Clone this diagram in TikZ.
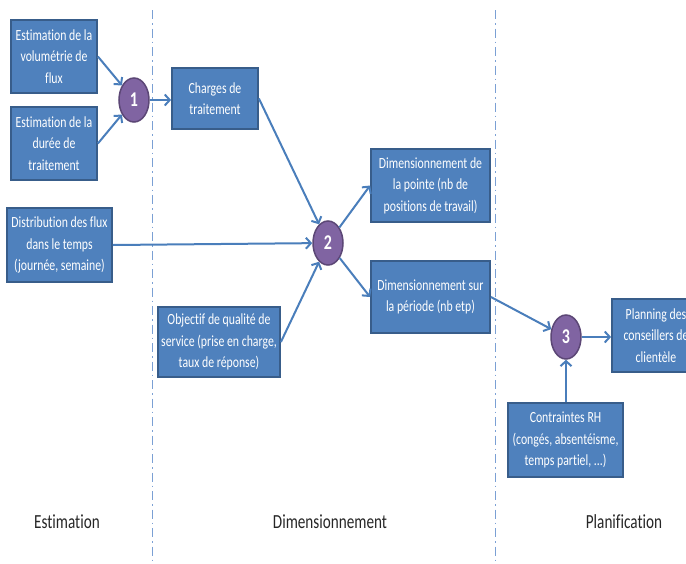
\documentclass[tikz,border=0pt]{standalone}
\usepackage{fontspec}
\setmainfont{Carlito}[FakeStretch=0.76, Ligatures={NoCommon}]
\usetikzlibrary{shapes.geometric,arrows.meta}
\definecolor{boxfill}{HTML}{4F81BD}
\definecolor{boxline}{HTML}{385D8A}
\definecolor{circfill}{HTML}{8064A2}
\definecolor{circline}{HTML}{5C4776}
\definecolor{arrowcol}{HTML}{4A7EBB}
\definecolor{sepcol}{HTML}{7BA0D4}
\begin{document}
\begin{tikzpicture}[x=1pt,y=-1pt,
  box/.style={draw=boxline, line width=1.8pt, fill=boxfill, text=white, align=center, inner sep=0pt, font=\fontsize{15.5}{21.5}\selectfont},
  num/.style={ellipse, draw=circline, line width=1.5pt, fill=circfill, text=white, minimum width=30pt, minimum height=44pt, inner sep=0pt, font=\bfseries\fontsize{21}{21}\selectfont},
  flow/.style={draw=arrowcol, line width=2pt, -{Straight Barb[length=5pt,width=11pt]}},
  sepline/.style={draw=sepcol, line width=1.5pt, dash pattern=on 9pt off 4pt on 1.5pt off 4pt},
  phase/.style={font=\fontsize{20}{24}\selectfont, text=black!85}]
\useasboundingbox (0,0) rectangle (686,563);
\clip (0,0) rectangle (686,563);
\fill[white] (0,0) rectangle (686,563);

% separators
\coordinate (s1t) at (152.5,10);
\coordinate (s1b) at (152.5,563);
\coordinate (s2t) at (495.5,10);
\coordinate (s2b) at (495.5,563);
\draw[sepline] (s1t) -- (s1b);
\draw[sepline] (s2t) -- (s2b);

% boxes
\node[box, minimum width=86pt, minimum height=73pt] (vol) at (54,56.5) {Estimation de la\\volumétrie de\\flux};
\node[box, minimum width=86pt, minimum height=73pt] (duree) at (54,143.5) {Estimation de la\\durée de\\traitement};
\node[box, minimum width=86pt, minimum height=61pt] (charges) at (215,98.5) {Charges de\\traitement};
\node[box, minimum width=105pt, minimum height=74pt] (distr) at (59.5,245) {Distribution des flux\\dans le temps\\(journée, semaine)};
\node[box, minimum width=122pt, minimum height=70pt] (obj) at (219,342) {Objectif de qualité de\\service (prise en charge,\\taux de réponse)};
\node[box, minimum width=119pt, minimum height=73pt] (pointe) at (430.5,185.5) {Dimensionnement de\\la pointe (nb de\\positions de travail)};
\node[box, minimum width=119pt, minimum height=72pt] (periode) at (430.5,297) {Dimensionnement sur\\la période (nb etp)};
\node[box, minimum width=88pt, minimum height=73pt] (planning) at (656,335.5) {Planning des\\conseillers de\\clientèle};
\node[box, minimum width=115pt, minimum height=74pt] (rh) at (565.5,440) {Contraintes RH\\(congés, absentéisme,\\temps partiel, ...)};

% numbered steps
\node[num] (c1) at (134,100) {1};
\node[num] (c2) at (328,243) {2};
\node[num] (c3) at (566,337) {3};

% connectors
\draw[flow] (vol.east) -- (c1);
\draw[flow] (duree.east) -- (c1);
\draw[flow] (c1) -- (charges.west |- c1);
\draw[flow] (charges.east) -- (c2);
\draw[flow] (distr.east) -- (c2);
\draw[flow] (obj.east) -- (c2);
\draw[flow] (c2) -- (pointe.west);
\draw[flow] (c2) -- (periode.west);
\draw[flow] (periode.east) -- (c3);
\draw[flow] (c3) -- (planning.west |- c3);
\draw[flow] (rh.north -| c3) -- (c3);

% phase labels
\node[phase] (p1) at (67,521.5) {Estimation};
\node[phase] (p2) at (330,521.5) {Dimensionnement};
\node[phase] (p3) at (624,521.5) {Planification};
\end{tikzpicture}
\end{document}
